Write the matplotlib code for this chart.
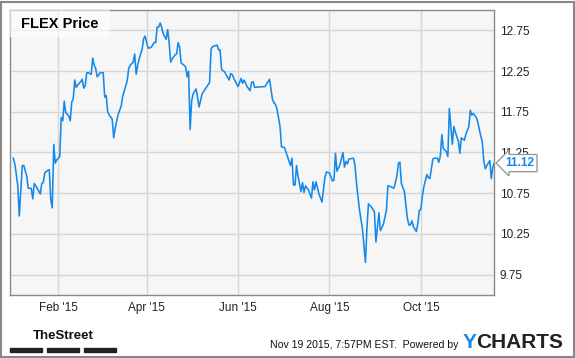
import numpy as np
import pandas as pd
import matplotlib
matplotlib.use('Agg')
import matplotlib.pyplot as plt
import matplotlib.dates as mdates
from matplotlib.patches import Rectangle

plt.rcParams['font.family'] = ['Liberation Sans', 'DejaVu Sans']

# FLEX daily close (month-day, 2015)
dates = [
    '01-02', '01-03', '01-04', '01-05', '01-06', '01-08', '01-09', '01-11', '01-12', '01-14', '01-15', '01-16',
    '01-18', '01-20', '01-21', '01-22', '01-23', '01-25', '01-26', '01-27', '01-28', '01-29', '01-30', '01-31',
    '02-02', '02-03', '02-04', '02-05', '02-06', '02-08', '02-09', '02-10', '02-11', '02-12', '02-13', '02-14',
    '02-16', '02-17', '02-18', '02-19', '02-20', '02-21', '02-23', '02-24', '02-25', '02-26', '02-27',
    '03-01', '03-03', '03-04', '03-05', '03-06', '03-07', '03-09', '03-10', '03-11', '03-13', '03-15', '03-16',
    '03-18', '03-19', '03-20', '03-21', '03-23', '03-24', '03-25', '03-26', '03-27', '03-29', '03-30', '03-31',
    '04-01', '04-02', '04-04', '04-05', '04-06', '04-07', '04-08', '04-09', '04-10', '04-11', '04-12', '04-14',
    '04-15', '04-16', '04-17', '04-18', '04-20', '04-21', '04-22', '04-23', '04-24', '04-26', '04-27', '04-28',
    '04-29', '04-30',
    '05-01', '05-02', '05-04', '05-06', '05-08', '05-13', '05-14', '05-15', '05-18', '05-19', '05-20', '05-21',
    '05-23', '05-26', '05-27', '05-28', '05-30',
    '06-01', '06-03', '06-04', '06-05', '06-07', '06-09', '06-10', '06-11', '06-12', '06-19', '06-22', '06-24',
    '06-25', '06-26', '06-27', '06-29', '06-30',
    '07-02', '07-04', '07-06', '07-07', '07-08', '07-09', '07-10', '07-11', '07-13', '07-14', '07-15', '07-16',
    '07-18', '07-20', '07-21', '07-22', '07-23', '07-25', '07-27', '07-29', '07-30',
    '08-01', '08-03', '08-04', '08-05', '08-06', '08-08', '08-10', '08-11', '08-12', '08-13', '08-14', '08-17',
    '08-18', '08-19', '08-21', '08-23', '08-25', '08-26', '08-27', '08-29', '08-31',
    '09-01', '09-03', '09-04', '09-06', '09-08', '09-09', '09-11', '09-13', '09-15', '09-16', '09-17', '09-18',
    '09-20', '09-22', '09-23', '09-24', '09-25', '09-26', '09-28', '09-29', '09-30',
    '10-01', '10-02', '10-03', '10-05', '10-06', '10-07', '10-09', '10-10', '10-12', '10-13', '10-14', '10-15',
    '10-16', '10-18', '10-19', '10-20', '10-22', '10-23', '10-24', '10-26', '10-27', '10-28', '10-30', '10-31',
    '11-02', '11-03', '11-04', '11-05', '11-07', '11-08', '11-10', '11-11', '11-12', '11-13', '11-14', '11-16',
    '11-17', '11-18', '11-19',
]
prices = [
    11.18, 11.11, 10.98, 10.84, 10.47, 11.09, 11.09, 10.96, 10.81, 10.81, 10.68, 10.87,
    10.81, 10.74, 10.87, 10.88, 11.00, 11.03, 11.04, 10.67, 10.57, 11.35, 11.12, 11.16,
    11.20, 11.68, 11.64, 11.88, 11.74, 11.70, 11.64, 11.87, 11.91, 12.14, 12.05, 12.08,
    12.12, 12.15, 12.04, 12.07, 12.23, 12.23, 12.21, 12.41, 12.32, 12.28, 12.18,
    12.23, 12.23, 11.93, 11.95, 11.75, 11.71, 11.66, 11.43, 11.55, 11.72, 11.82, 11.94,
    12.07, 12.13, 12.28, 12.32, 12.36, 12.46, 12.21, 12.32, 12.40, 12.52, 12.65, 12.68,
    12.60, 12.53, 12.54, 12.57, 12.60, 12.60, 12.79, 12.79, 12.84, 12.79, 12.71, 12.64,
    12.76, 12.60, 12.36, 12.40, 12.45, 12.46, 12.60, 12.54, 12.35, 12.32, 12.30, 12.18,
    12.25, 11.53,
    11.88, 11.97, 12.03, 11.81, 11.97, 12.11, 12.52, 12.55, 12.57, 12.51, 12.51, 12.27,
    12.24, 12.14, 12.22, 12.21, 12.13,
    12.06, 12.16, 12.10, 12.14, 12.06, 12.01, 12.11, 12.12, 12.05, 12.06, 12.15, 11.90,
    11.86, 11.84, 11.78, 11.57, 11.32,
    11.31, 11.20, 11.09, 11.18, 10.85, 10.85, 11.09, 10.96, 10.77, 10.88, 10.76, 10.84,
    10.79, 10.69, 10.89, 10.79, 10.89, 10.74, 10.64, 10.95, 11.01,
    11.00, 10.90, 10.91, 11.24, 11.02, 11.10, 11.25, 11.07, 11.14, 11.11, 11.17, 11.18,
    11.10, 10.88, 10.55, 10.31, 9.90, 10.32, 10.62, 10.58, 10.52,
    10.15, 10.51, 10.29, 10.37, 10.54, 10.84, 10.83, 10.81, 10.96, 11.12, 11.13, 10.87,
    10.77, 10.44, 10.36, 10.36, 10.41, 10.34, 10.28, 10.38, 10.54,
    10.55, 10.72, 10.83, 10.98, 10.94, 10.93, 11.17, 11.18, 11.18, 11.13, 11.21, 11.47,
    11.30, 11.26, 11.20, 11.79, 11.35, 11.57, 11.50, 11.39, 11.24, 11.43, 11.40, 11.47,
    11.57, 11.77, 11.71, 11.73, 11.68, 11.62, 11.45, 11.38, 11.14, 11.05, 11.09, 11.15,
    10.93, 11.07, 11.12,
]
yticks = [9.75, 10.25, 10.75, 11.25, 11.75, 12.25, 12.75]
xticks = ['2015-02-01', '2015-04-01', '2015-06-01', '2015-08-01', '2015-10-01']
last_label = '11.12'

x = pd.to_datetime(['2015-' + d for d in dates])

fig = plt.figure(figsize=(5.75, 3.58), dpi=100)
ax = fig.add_axes([10.3 / 575, 63 / 358, 484 / 575, 285 / 358])
ax.set_facecolor('#f6f6f6')

line_color = '#1589ea'
ax.plot(x, prices, color=line_color, lw=1.15, zorder=3)

ax.set_ylim(9.5, 13.0)
ax.set_xlim(pd.Timestamp('2014-12-31'), pd.Timestamp('2015-11-19'))
ax.set_yticks(yticks)
ax.set_yticklabels(['%.2f' % v for v in yticks])
ax.set_xticks(pd.to_datetime(xticks))
ax.xaxis.set_major_formatter(mdates.DateFormatter("%b '%y"))
ax.yaxis.tick_right()
ax.tick_params(length=0, labelsize=8.5, colors='#222222')
ax.tick_params(axis='y', pad=4)
ax.tick_params(axis='x', pad=5)
ax.grid(True, color='#d6d6d6', lw=1)
ax.set_axisbelow(True)
for s in ax.spines.values():
    s.set_color('#8a8a8a')
    s.set_linewidth(1)

# title box
ax.add_patch(Rectangle((0, 1 - 27 / 285), 100 / 484, 27 / 285, transform=ax.transAxes,
                       facecolor='white', alpha=0.6, edgecolor='none', zorder=4))
ax.text(11 / 484, 1 - 14 / 285, 'FLEX Price', transform=ax.transAxes, fontsize=10.5,
        fontweight='bold', va='center', ha='left', color='black', zorder=5)

# last value tag (sits over the 11.25 label, as in the original)
ax.annotate(last_label, xy=(x[-1], prices[-1]), xytext=(8, 0), textcoords='offset points',
            fontsize=8.5, fontweight='bold', color=line_color, va='center', ha='left',
            annotation_clip=False, zorder=10,
            bbox=dict(boxstyle='larrow,pad=0.22', facecolor='white', edgecolor='#999999', lw=1))

# outer frame
fig.add_artist(Rectangle((0.5 / 575, 1.5 / 358), 573 / 575, 355 / 358, transform=fig.transFigure,
                         fill=False, edgecolor='#888888', lw=1.5))

# footer
fig.text(63 / 575, 1 - 336 / 358, 'TheStreet', fontsize=9.5, fontweight='bold',
         ha='center', va='center', color='#111111', fontstretch='condensed')
for bx in (10, 47, 84):
    fig.add_artist(Rectangle((bx / 575, 1 - 352 / 358), 32 / 575, 4 / 358,
                             transform=fig.transFigure, color='#222222'))
fig.text(458 / 575, 1 - 345 / 358, 'Nov 19 2015, 7:57PM EST.  Powered by', fontsize=7.6,
         ha='right', va='center', color='#111111')
fig.text(463 / 575, 1 - 342 / 358, 'Y', fontsize=15, fontweight='bold',
         ha='left', va='center', color='#1589ea')
fig.text(476 / 575, 1 - 342 / 358, 'CHARTS', fontsize=15, fontweight='bold',
         ha='left', va='center', color='#222222')

fig.savefig('out.png', dpi=100)
